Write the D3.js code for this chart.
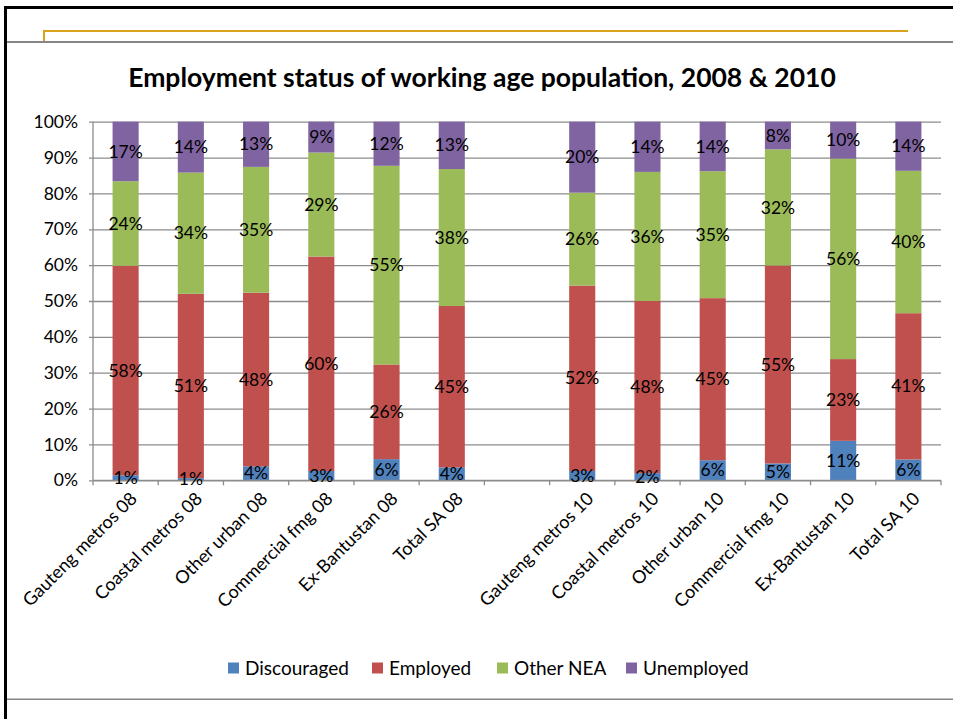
<!DOCTYPE html>
<html>
<head>
<meta charset="utf-8">
<script src="https://cdn.jsdelivr.net/npm/d3@7"></script>
<style>
  html, body { margin: 0; padding: 0; background: #fff; }
  svg { display: block; font-family: Lato, "Open Sans", sans-serif; }
</style>
</head>
<body>
<svg id="chart" width="953" height="719"></svg>
<script>
// categories (blank slot separates 2008 from 2010)
const categories = [
  'Gauteng metros 08', 'Coastal metros 08', 'Other urban 08', 'Commercial fmg 08', 'Ex-Bantustan 08', 'Total SA 08',
  ' ',
  'Gauteng metros 10', 'Coastal metros 10', 'Other urban 10', 'Commercial fmg 10', 'Ex-Bantustan 10', 'Total SA 10'
];
// shares in %
const discouraged = [1.4, 0.6, 3.9, 2.6, 5.9, 3.6, null, 2.6, 2.0, 5.6, 4.7, 11.0, 5.8];
const employed    = [58.4, 51.4, 48.4, 59.8, 26.4, 45.0, null, 51.7, 48.0, 45.2, 55.2, 22.8, 40.8];
const otherNEA    = [23.6, 33.8, 35.1, 29.0, 55.4, 38.2, null, 25.9, 36.0, 35.4, 32.4, 55.9, 39.7];
const unemployed  = [16.6, 14.2, 12.6, 8.6, 12.3, 13.2, null, 19.8, 14.0, 13.8, 7.7, 10.3, 13.7];

const seriesNames = ['Discouraged', 'Employed', 'Other NEA', 'Unemployed'];
const seriesColors = ['#4f81bd', '#c0504d', '#9bbb59', '#8064a2'];
const yTicks = [0, 10, 20, 30, 40, 50, 60, 70, 80, 90, 100];
const title = 'Employment status of working age population, 2008 & 2010';

const svg = d3.select('#chart');

// ---- slide frame ----
svg.append('rect').attr('x', 4).attr('y', 6).attr('width', 960).attr('height', 3).attr('fill', '#000');
svg.append('rect').attr('x', 4).attr('y', 6).attr('width', 3).attr('height', 720).attr('fill', '#000');
svg.append('rect').attr('x', 7).attr('y', 41).attr('width', 950).attr('height', 2).attr('fill', '#868686');
svg.append('path').attr('d', 'M44,41V31H908').attr('fill', 'none').attr('stroke', '#d9a21b').attr('stroke-width', 2);
svg.append('rect').attr('x', 7).attr('y', 698.5).attr('width', 950).attr('height', 1.5).attr('fill', '#868686');

// ---- title ----
svg.append('text')
  .attr('x', 482).attr('y', 87)
  .attr('text-anchor', 'middle')
  .attr('font-weight', 'bold')
  .attr('font-size', 26.5)
  .attr('fill', '#000')
  .text(title);

// ---- scales ----
const M = { l: 93, r: 941, t: 121.7, b: 480.3 };
const rows = categories.map((c, i) => ({
  cat: c,
  'Discouraged': discouraged[i] ?? 0,
  'Employed': employed[i] ?? 0,
  'Other NEA': otherNEA[i] ?? 0,
  'Unemployed': unemployed[i] ?? 0,
  blank: discouraged[i] == null
}));

const x = d3.scaleBand().domain(categories).range([M.l, M.r]).paddingInner(0.6).paddingOuter(0.3);
const slot = d3.scaleBand().domain(categories).range([M.l, M.r]).padding(0);
const y = d3.scaleLinear().domain([0, 100]).range([M.b, M.t]);

const stack = d3.stack().keys(seriesNames)(rows);

// grid + y axis
const yAxis = d3.axisLeft(y).tickValues(yTicks).tickSize(-(M.r - M.l)).tickSizeOuter(0).tickPadding(15)
  .tickFormat(d => d + '%');
const gy = svg.append('g').attr('transform', `translate(${M.l},0)`).call(yAxis);
gy.select('.domain').remove();
gy.selectAll('.tick line').attr('stroke', '#8c8c8c').attr('stroke-width', 1.3).attr('x1', -4);
gy.selectAll('.tick text').attr('font-size', 17.5).attr('fill', '#000').attr('font-family', 'Lato, sans-serif');
svg.append('line').attr('x1', M.l).attr('x2', M.l).attr('y1', M.t).attr('y2', M.b)
  .attr('stroke', '#8c8c8c').attr('stroke-width', 1.3);

// bars
const fmt = d3.format('.0f');
stack.forEach((s, si) => {
  const g = svg.append('g');
  g.selectAll('rect').data(s.filter(d => !d.data.blank)).join('rect')
    .attr('x', d => x(d.data.cat))
    .attr('width', x.bandwidth())
    .attr('y', d => y(d[1]))
    .attr('height', d => y(d[0]) - y(d[1]))
    .attr('fill', seriesColors[si]);
});

// x axis (ticks at slot boundaries)
const bounds = categories.map(c => slot(c)).concat([M.r]);
svg.append('line').attr('x1', M.l).attr('x2', M.r).attr('y1', M.b).attr('y2', M.b)
  .attr('stroke', '#8c8c8c').attr('stroke-width', 1.3);
svg.append('g').selectAll('line').data(bounds).join('line')
  .attr('x1', d => d).attr('x2', d => d)
  .attr('y1', M.b).attr('y2', M.b + 5)
  .attr('stroke', '#8c8c8c').attr('stroke-width', 1.3);

// data labels
stack.forEach(s => {
  svg.append('g').selectAll('text').data(s.filter(d => !d.data.blank)).join('text')
    .attr('x', d => x(d.data.cat) + x.bandwidth() / 2)
    .attr('y', d => y((d[0] + d[1]) / 2))
    .attr('dy', '0.35em')
    .attr('text-anchor', 'middle')
    .attr('font-size', 17.5)
    .attr('fill', '#000')
    .text(d => fmt(d[1] - d[0]) + '%');
});

// category labels, rotated
svg.append('g').selectAll('text').data(categories.filter(c => c.trim())).join('text')
  .attr('transform', c => `translate(${x(c) + x.bandwidth() / 2 + 8},${M.b + 15}) rotate(-45)`)
  .attr('text-anchor', 'end')
  .attr('dy', '0.35em')
  .attr('font-size', 18)
  .attr('fill', '#000')
  .text(c => c);

// legend
const legendX = [228, 372, 497, 626];
const lg = svg.append('g').selectAll('g').data(seriesNames).join('g')
  .attr('transform', (d, i) => `translate(${legendX[i]},668)`);
lg.append('rect').attr('x', 0).attr('y', -5.5).attr('width', 11).attr('height', 11)
  .attr('fill', (d, i) => seriesColors[i]);
lg.append('text').attr('x', 17).attr('dy', '0.35em').attr('font-size', 19).attr('fill', '#000').text(d => d);
</script>
</body>
</html>
